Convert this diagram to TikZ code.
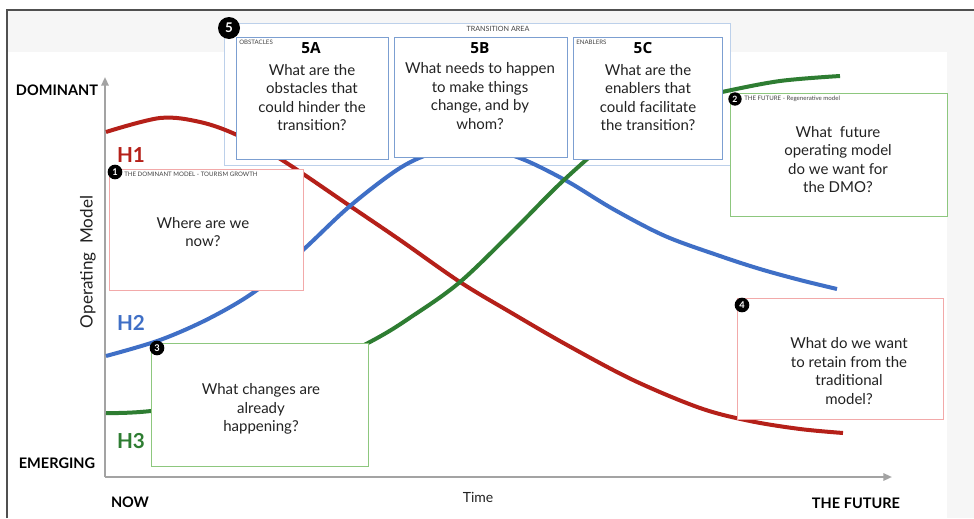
\documentclass[tikz,border=0pt]{standalone}
\usepackage{fontspec}
\setmainfont{Lato}
\newfontfamily\opensans{Open Sans}
\usetikzlibrary{arrows.meta}
\definecolor{redc}{HTML}{B52019}
\definecolor{bluec}{HTML}{3F6FC6}
\definecolor{greenc}{HTML}{2E7D32}
\definecolor{pinkb}{HTML}{F2A9A9}
\definecolor{greenb}{HTML}{8DC77E}
\definecolor{blueb}{HTML}{7C9FD1}
\definecolor{bluebl}{HTML}{BCD0EA}
\definecolor{axisc}{HTML}{A3A3A3}
\definecolor{bandc}{HTML}{F6F6F6}
\definecolor{framec}{HTML}{505050}
\definecolor{txt}{HTML}{222222}
\definecolor{tinyc}{HTML}{444444}
\newcommand\fsz[2]{\fontsize{#1}{#2}\selectfont}
\begin{document}
\begin{tikzpicture}[x=0.75pt,y=-0.75pt,
  curve/.style={line width=3pt, smooth, tension=0.55},
  qbox/.style={draw, fill=white, line width=0.75pt, inner sep=0pt},
  badge/.style={circle, fill=black, text=white, inner sep=0pt, font=\bfseries\fsz{7}{7}},
  qtext/.style={align=center, text=txt, font=\fsz{11.25}{13.9}, inner sep=0pt},
  tinylab/.style={text=tinyc, font=\fsz{4.6}{5}, inner sep=0pt},
  axislab/.style={text=black, font=\bfseries\fsz{10.9}{12}, inner sep=0pt},
  hlab/.style={font=\bfseries\fsz{15.5}{16}, inner sep=0pt},
  numlab/.style={font=\opensans\bfseries\fsz{11.5}{12}, text=black, inner sep=0pt},
  axis/.style={draw=axisc, line width=1.5pt, -{Triangle[length=6.5pt,width=5.5pt]}}
]
\useasboundingbox (0,0) rectangle (974,518);
% background
\fill[white] (0,0) rectangle (974,518);
\fill[bandc] (7,10) rectangle (974,518);
\fill[white] (7,52) rectangle (947,518);
\draw[framec, line width=1.1pt] (7,518) -- (7,10) -- (974,10);

% transition area outer box
\node[qbox, draw=bluebl, minimum width=379.5pt, minimum height=106.5pt] (area) at (477,94) {};

% axes
\coordinate (origin) at (105,477);
\coordinate (ytop) at (105,77);
\coordinate (xend) at (892,477);
\draw[axis] (origin) -- (ytop);
\draw[axis] (origin) -- (xend);

% curves
\draw[curve, redc] plot coordinates {(106,132) (160,118) (200,122) (237,135) (282,160) (350,206) (400,240) (460,282) (510,312) (567,345) (633,380) (700,408) (750,421) (800,429) (843,433)};
\draw[curve, bluec] plot coordinates {(106,356) (160,340) (210,318) (257,290) (303,250) (350,206) (400,168) (436,152) (472,147) (517,157) (565,180) (613,209) (665,236) (720,256) (760,269) (800,280) (837,289)};
\draw[curve, greenc] plot coordinates {(106,413) (151,411) (260,396) (368,343) (414,315) (460,282) (512,232) (565,179) (620,133) (680,102) (722,92) (780,81) (840,76)};

% question boxes
\node[qbox, draw=pinkb, minimum width=145.5pt, minimum height=90.75pt] (b1) at (206,229.5) {};
\node[qbox, draw=greenb, minimum width=162.75pt, minimum height=92.25pt] (b3) at (259.5,404.5) {};
\node[qbox, draw=greenb, minimum width=162.75pt, minimum height=92.25pt] (b2) at (838.5,154.5) {};
\node[qbox, draw=pinkb, minimum width=154.5pt, minimum height=90.75pt] (b4) at (840,358.5) {};
\node[qbox, draw=blueb, minimum width=114pt, minimum height=91.5pt] (b5a) at (312,98) {};
\node[qbox, draw=blueb, minimum width=129.75pt, minimum height=90pt] (b5b) at (480.5,97) {};
\node[qbox, draw=blueb, minimum width=111.75pt, minimum height=91.5pt] (b5c) at (647.5,98) {};

% tiny labels
\node[tinylab, font=\fsz{5.4}{6}] (areal) at (498,29) {TRANSITION AREA};
\node[tinylab, anchor=west] (obsl) at (239,42) {OBSTACLES};
\node[tinylab, anchor=west] (enal) at (576,42) {ENABLERS};
\node[tinylab, anchor=west] (doml) at (124,174) {THE DOMINANT MODEL - TOURISM GROWTH};
\node[tinylab, anchor=west] (futl) at (744,98.5) {THE FUTURE - Regenerative model};

% numbers
\node[numlab] (n5a) at (311,48) {5A};
\node[numlab] (n5b) at (480,48) {5B};
\node[numlab] (n5c) at (643,48) {5C};

% questions
\node[qtext] (q5a) at (312,97.5) {What are the\\obstacles that\\could hinder the\\transition?};
\node[qtext] (q5b) at (480,96) {What needs to happen\\to make things\\change, and by\\whom?\hspace{1.5em}};
\node[qtext] (q5c) at (648,97.5) {What are the\\enablers that\\could facilitate\\the transition?};
\node[qtext] (q1) at (203,232) {Where are we\\now?};
\node[qtext] (q3) at (261,409) {What changes are\\already\\happening?};
\node[qtext] (q2) at (838,159.5) {What\ \ future\\operating model\\do we want for\\the DMO?};
\node[qtext] (q4) at (849,371) {What do we want\\to retain from the\\traditional\\model?};

% badges
\node[badge, minimum size=16.5pt, font=\bfseries\fsz{10}{10}] (c5) at (229,28) {5};
\node[badge, minimum size=11pt] (c1) at (115,172) {1};
\node[badge, minimum size=10pt, font=\bfseries\fsz{6.5}{6.5}] (c2) at (735,99) {2};
\node[badge, minimum size=11pt] (c3) at (157,348) {3};
\node[badge, minimum size=11pt] (c4) at (742,305) {4};

% axis labels
\node[axislab] (dom) at (57,90) {DOMINANT};
\node[axislab] (emg) at (57,463) {EMERGING};
\node[axislab] (now) at (130,502) {NOW};
\node[axislab] (fut) at (856,503) {THE FUTURE};
\node[text=txt, font=\fsz{10.5}{12}, inner sep=0pt] (time) at (478,497) {Time};
\node[text=txt, font=\fsz{12.8}{14}, inner sep=0pt, rotate=90] (opm) at (88,262) {Operating\ \ Model};
\node[hlab, text=redc] (h1) at (131,155) {H1};
\node[hlab, text=bluec] (h2) at (131,323) {H2};
\node[hlab, text=greenc] (h3) at (131,441) {H3};
\end{tikzpicture}
\end{document}
